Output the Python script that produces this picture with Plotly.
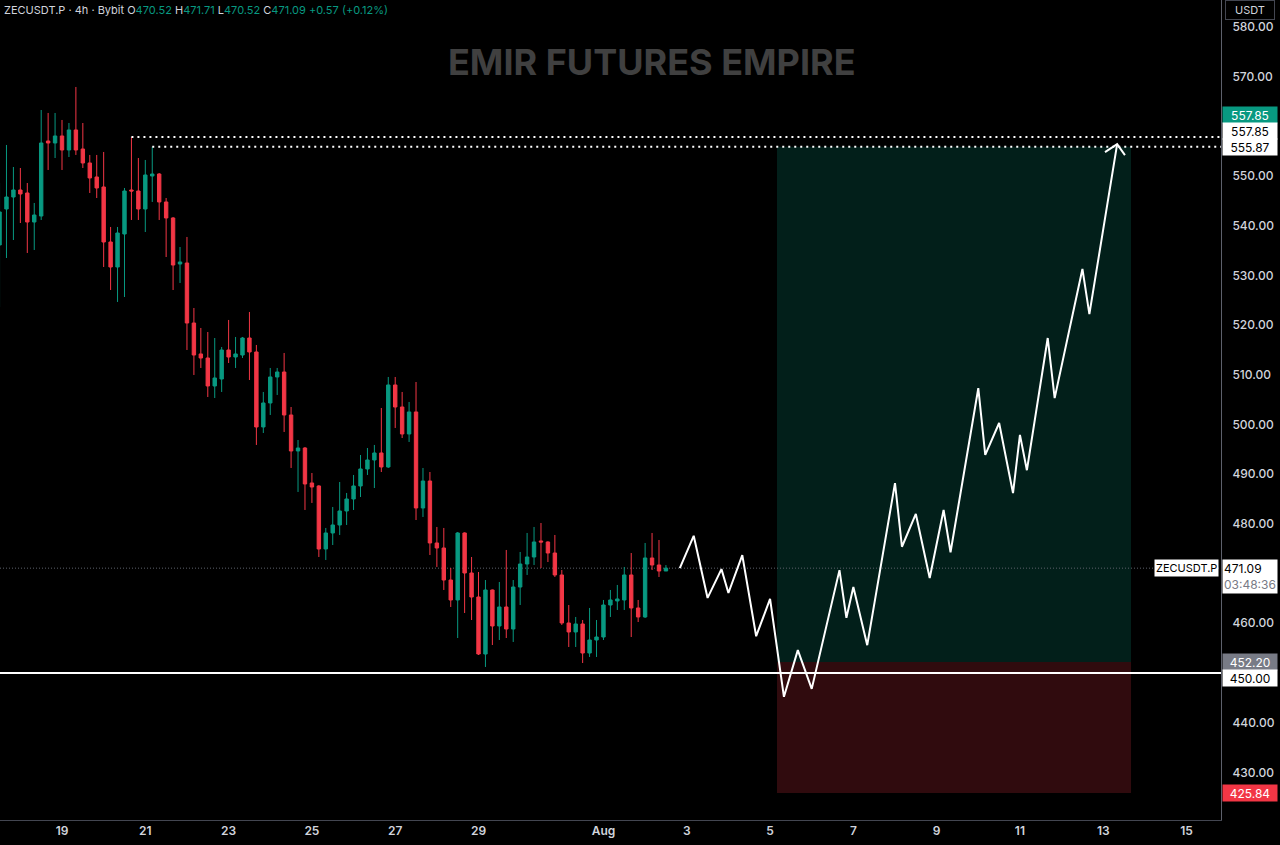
import pandas as pd
import plotly.graph_objects as go

# ZECUSDT.P 4h candles, first bar opens Jul 17 12:00
opens = [536.12, 543.36, 545.77, 547.18, 546.58, 540.74, 541.95, 557.04, 556.64, 558.05,
         555.23, 559.26, 555.43, 552.62, 549.80, 547.79, 536.72, 531.69, 538.33, 547.18,
         546.98, 543.36, 550.00, 550.40, 544.77, 541.55, 532.29, 532.49, 520.42, 514.19,
         513.38, 507.75, 509.15, 514.99, 513.58, 513.98, 517.40, 514.59, 499.50, 504.33,
         509.56, 510.56, 501.91, 494.67, 495.27, 488.23, 487.63, 474.95, 478.17, 479.78,
         482.60, 485.01, 487.63, 491.05, 492.86, 494.27, 491.45, 507.95, 503.52, 498.09,
         502.52, 483.20, 488.63, 476.16, 475.15, 468.71, 464.69, 478.17, 470.12, 465.29,
         453.82, 466.70, 459.46, 463.28, 458.85, 467.30, 471.93, 473.34, 476.56, 476.36,
         474.14, 469.72, 460.06, 458.25, 459.86, 454.02, 456.64, 457.24, 463.68, 464.49,
         464.69, 469.72, 463.08, 461.27, 473.14, 471.73, 470.52]
highs = [548.59, 556.24, 551.81, 551.61, 548.59, 544.57, 563.28, 562.68, 562.68, 561.27,
         560.66, 567.91, 560.66, 554.23, 554.23, 554.83, 539.74, 539.74, 547.59, 557.85,
         553.62, 553.22, 555.87, 550.60, 545.57, 541.75, 535.71, 537.73, 523.44, 519.42,
         518.61, 517.40, 515.59, 521.03, 517.61, 517.61, 522.64, 516.00, 506.54, 511.37,
         511.37, 514.39, 503.52, 496.88, 495.47, 490.24, 487.80, 479.18, 483.40, 488.43,
         486.22, 489.84, 493.86, 495.27, 495.88, 503.32, 509.56, 509.56, 506.54, 504.53,
         508.55, 491.25, 490.44, 479.38, 479.18, 471.13, 478.37, 478.30, 473.34, 470.32,
         468.71, 466.80, 468.31, 474.75, 468.71, 474.35, 478.17, 479.38, 480.18, 476.50,
         477.77, 470.72, 463.68, 461.27, 460.66, 463.08, 460.66, 464.69, 466.70, 467.71,
         471.33, 474.14, 464.69, 476.16, 478.17, 476.76, 471.71]
lows = [523.64, 533.50, 537.12, 540.54, 534.51, 535.11, 541.15, 551.21, 553.62, 551.21,
        553.82, 554.23, 551.61, 546.58, 545.57, 531.69, 527.06, 524.65, 525.65, 541.15,
        541.15, 538.73, 544.77, 541.15, 533.70, 527.06, 528.47, 514.99, 509.96, 511.37,
        505.53, 505.33, 506.54, 512.37, 511.37, 513.38, 508.95, 495.88, 498.29, 501.91,
        505.94, 498.49, 491.25, 486.42, 482.80, 484.21, 473.34, 472.74, 475.75, 477.77,
        479.78, 482.80, 485.41, 489.84, 487.22, 490.44, 491.25, 499.30, 497.28, 496.48,
        480.78, 481.39, 473.74, 471.33, 466.70, 463.28, 457.04, 462.07, 460.66, 453.62,
        451.21, 455.63, 456.64, 457.04, 456.24, 463.68, 469.72, 471.73, 471.13, 472.33,
        469.32, 459.66, 455.23, 455.23, 452.01, 453.22, 453.22, 456.64, 461.27, 462.68,
        462.68, 457.24, 460.26, 461.07, 470.72, 469.32, 470.52]
closes = [542.76, 545.77, 547.18, 546.38, 540.74, 542.15, 556.64, 556.64, 558.05, 555.23,
          559.26, 555.23, 552.62, 549.60, 547.59, 536.72, 531.69, 538.53, 546.98, 546.98,
          543.36, 550.20, 550.40, 544.77, 541.55, 532.09, 532.70, 520.42, 513.98, 513.38,
          507.75, 509.36, 514.99, 513.58, 514.19, 517.40, 514.59, 499.50, 504.33, 509.56,
          510.56, 501.91, 494.67, 495.27, 488.03, 487.42, 474.95, 478.17, 479.78, 482.60,
          485.01, 487.63, 491.05, 492.86, 494.27, 491.45, 507.95, 503.52, 498.09, 502.52,
          483.20, 488.63, 476.16, 475.15, 468.71, 464.69, 478.17, 470.12, 465.29, 453.82,
          466.70, 459.46, 463.28, 458.85, 467.30, 471.93, 473.34, 476.36, 476.36, 474.14,
          469.72, 460.06, 458.25, 459.86, 454.02, 456.64, 457.24, 463.68, 464.69, 464.89,
          469.72, 463.08, 461.27, 473.14, 471.73, 470.52, 471.09]
bar_times = pd.date_range("2025-07-17 12:00", periods=len(opens), freq="4h")

# projected path drawing
path_time = ["2025-08-02 20:00", "2025-08-03 04:00", "2025-08-03 12:00", "2025-08-03 20:00",
             "2025-08-04 00:00", "2025-08-04 08:00", "2025-08-04 16:00", "2025-08-05 00:00",
             "2025-08-05 08:00", "2025-08-05 16:00", "2025-08-06 00:00", "2025-08-06 16:00",
             "2025-08-06 20:00", "2025-08-07 00:00", "2025-08-07 08:00", "2025-08-08 00:00",
             "2025-08-08 04:00", "2025-08-08 12:00", "2025-08-08 20:00", "2025-08-09 04:00",
             "2025-08-09 08:00", "2025-08-10 00:00", "2025-08-10 04:00", "2025-08-10 12:00",
             "2025-08-10 20:00", "2025-08-11 00:00", "2025-08-11 04:00", "2025-08-11 16:00",
             "2025-08-11 20:00", "2025-08-12 12:00", "2025-08-12 16:00", "2025-08-13 08:00"]
path_price = [471.1, 477.6, 465.1, 470.9, 466.1, 473.7, 457.4, 464.9, 445.2, 454.6, 446.8,
              470.7, 461.1, 467.3, 455.6, 488.2, 475.4, 482.0, 469.1, 482.8, 474.3, 507.3,
              493.9, 500.3, 486.2, 497.9, 490.8, 517.4, 505.3, 531.3, 522.2, 556.4]
head_time = ["2025-08-13 01:00", "2025-08-13 08:00", "2025-08-13 12:30"]
head_price = [554.8, 556.4, 554.2]

# long position tool
entry = 452.20
target = 555.87
stop = 425.84
pos_start = "2025-08-05 04:00"
pos_end = "2025-08-13 16:00"

support = 450.00
high_a, high_a_time = 557.85, "2025-07-20 16:00"
high_b, high_b_time = 555.87, "2025-07-21 04:00"
last_price = 471.09

x_range = ["2025-07-17 12:16", "2025-08-15 19:51"]
y_range = [420.42, 585.41]

tick_dates = ["2025-07-19", "2025-07-21", "2025-07-23", "2025-07-25", "2025-07-27",
              "2025-07-29", "2025-08-01", "2025-08-03", "2025-08-05", "2025-08-07",
              "2025-08-09", "2025-08-11", "2025-08-13", "2025-08-15"]
tick_text = ["19", "21", "23", "25", "27", "29", "Aug", "3", "5", "7", "9", "11", "13", "15"]
price_ticks = [430, 440, 460, 480, 490, 500, 510, 520, 530, 540, 550, 570, 580]

GREEN = "#089981"
RED = "#f23645"
FONT = "Inter"

fig = go.Figure()

fig.add_trace(go.Candlestick(
    x=bar_times, open=opens, high=highs, low=lows, close=closes,
    increasing=dict(line=dict(color=GREEN, width=1), fillcolor=GREEN),
    decreasing=dict(line=dict(color=RED, width=1), fillcolor=RED),
    whiskerwidth=0, hoverinfo="skip", showlegend=False,
))

fig.add_trace(go.Scatter(
    x=path_time, y=path_price, mode="lines",
    line=dict(color="white", width=2), hoverinfo="skip", showlegend=False,
))
fig.add_trace(go.Scatter(
    x=head_time, y=head_price, mode="lines",
    line=dict(color="white", width=2), hoverinfo="skip", showlegend=False,
))

# profit / loss zones
fig.add_shape(type="rect", x0=pos_start, x1=pos_end, y0=entry, y1=target,
              fillcolor="rgba(8,153,129,0.2)", line_width=0, layer="below")
fig.add_shape(type="rect", x0=pos_start, x1=pos_end, y0=stop, y1=entry,
              fillcolor="rgba(242,54,69,0.2)", line_width=0, layer="below")

# horizontal levels
fig.add_shape(type="line", x0=x_range[0], x1=x_range[1], y0=last_price, y1=last_price,
              line=dict(color="#5d606b", width=1, dash="1px,2px"), layer="below")
fig.add_shape(type="line", x0=x_range[0], x1=x_range[1], y0=support, y1=support,
              line=dict(color="white", width=2))
fig.add_shape(type="line", x0=high_a_time, x1=x_range[1], y0=high_a, y1=high_a,
              line=dict(color="white", width=2, dash="2px,4px"))
fig.add_shape(type="line", x0=high_b_time, x1=x_range[1], y0=high_b, y1=high_b,
              line=dict(color="white", width=2, dash="2px,4px"))

# price scale labels
def axis_label(price, text, bg, fg, yshift=0):
    fig.add_annotation(
        xref="paper", yref="y", x=1, y=price, xanchor="left", yanchor="middle",
        xshift=1, yshift=yshift, text=text, showarrow=False, width=52, height=14,
        align="center", bgcolor=bg, borderpad=1,
        font=dict(family=FONT, size=12, color=fg),
    )

axis_label(high_a, f"{high_a:.2f}", GREEN, "white", yshift=22)
axis_label(high_a, f"{high_a:.2f}", "white", "black", yshift=6)
axis_label(high_b, f"{high_b:.2f}", "white", "black")
axis_label(entry, f"{entry:.2f}", "#787b86", "white")
axis_label(support, f"{support:.2f}", "white", "black", yshift=-5)
axis_label(stop, f"{stop:.2f}", RED, "white")

fig.add_annotation(
    xref="paper", yref="y", x=1, y=last_price, xanchor="left", yanchor="top",
    xshift=1, yshift=9, showarrow=False, width=52, align="left", bgcolor="white", borderpad=1,
    text=f"{last_price:.2f}<br><span style='color:#787b86'>03:48:36</span>",
    font=dict(family=FONT, size=12, color="black"),
)
fig.add_annotation(
    xref="paper", yref="y", x=1, y=last_price, xanchor="right", yanchor="middle",
    xshift=-2, showarrow=False, bgcolor="white", borderpad=1,
    text="ZECUSDT.P", font=dict(family=FONT, size=11, color="black"),
)
fig.add_annotation(
    xref="paper", yref="paper", x=1, y=1, xanchor="left", yanchor="top",
    xshift=4, yshift=0, showarrow=False, width=46, height=16, bgcolor="black",
    bordercolor="#434651", borderwidth=1, borderpad=1,
    text="USDT", font=dict(family=FONT, size=11, color="#d1d4dc"),
)

# header and watermark
g = lambda v: f"<span style='color:{GREEN}'>{v}</span>"
fig.add_annotation(
    xref="paper", yref="paper", x=0, y=1, xanchor="left", yanchor="top",
    xshift=2, yshift=-1, showarrow=False,
    text=f"ZECUSDT.P · 4h · Bybit O{g('470.52')} H{g('471.71')} L{g('470.52')} "
         f"C{g('471.09')} {g('+0.57 (+0.12%)')}",
    font=dict(family=FONT, size=11, color="#d1d4dc"),
)
fig.add_annotation(
    xref="paper", yref="paper", x=0.534, y=0.924, xanchor="center", yanchor="middle",
    showarrow=False, text="<b>EMIR FUTURES EMPIRE</b>",
    font=dict(family=FONT, size=36, color="#404040"),
)

fig.update_layout(
    width=1280, height=845,
    margin=dict(l=0, r=59, t=0, b=25),
    paper_bgcolor="black", plot_bgcolor="black",
    showlegend=False,
    xaxis=dict(
        type="date", range=x_range, rangeslider=dict(visible=False),
        tickvals=tick_dates, ticktext=tick_text, showgrid=False, zeroline=False,
        showline=True, linecolor="#434651", linewidth=1, ticks="",
        tickfont=dict(family=FONT, size=12, color="#d1d4dc", weight=600),
    ),
    yaxis=dict(
        side="right", range=y_range, tickvals=price_ticks,
        ticktext=[f"{v:.2f}" for v in price_ticks], showgrid=False, zeroline=False,
        showline=True, linecolor="#5d606b", linewidth=1, ticks="", ticklabelstandoff=8,
        tickfont=dict(family=FONT, size=12, color="#d1d4dc", weight=500),
    ),
)

fig.write_html("out.html", config={"displayModeBar": False},
               post_script="document.body.style.margin='0';")
